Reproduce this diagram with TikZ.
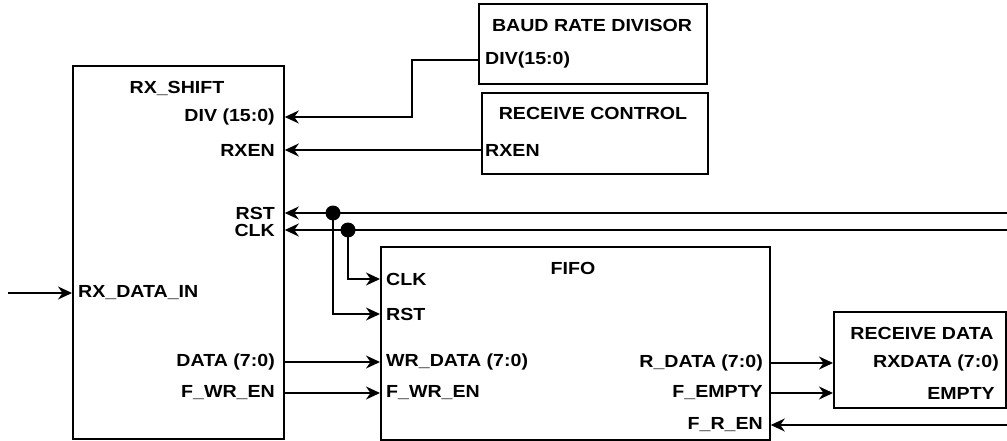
\documentclass[tikz,border=0pt]{standalone}
\usepackage{fontspec}
\setmainfont{Liberation Sans}[FakeStretch=1.12]
\usetikzlibrary{positioning, arrows.meta}

\begin{document}
\begin{tikzpicture}[
    x=1pt, y=-1pt,
    block/.style={draw, line width=1.8pt, anchor=north west, inner sep=0pt},
    title/.style={font=\bfseries\fontsize{17.5}{19}\selectfont, inner sep=1pt},
    port/.style={font=\bfseries\fontsize{17.5}{19}\selectfont, inner sep=1pt},
    sig/.style={-{Stealth[length=14pt, width=13pt, inset=4.5pt]}, line width=1.9pt},
    dot/.style={circle, fill, inner sep=0pt, minimum size=15pt}
]
    \useasboundingbox (0,0) rectangle (1007,441);

    % Blocks
    \node[block, minimum width=211pt, minimum height=373pt] (rx) at (72,65) {};
    \node[block, minimum width=228pt, minimum height=80pt] (baud) at (478,3) {};
    \node[block, minimum width=226pt, minimum height=81pt] (ctrl) at (481,92) {};
    \node[block, minimum width=389pt, minimum height=193pt] (fifo) at (380,246) {};
    \node[block, minimum width=172pt, minimum height=96pt] (rdat) at (833,311) {};

    % Titles
    \node[title] (rxname) at (177,88) {RX\_SHIFT};
    \node[title] (baudname) at (592,25) {BAUD RATE DIVISOR};
    \node[title] (ctrlname) at (593,113) {RECEIVE CONTROL};
    \node[title] (fifoname) at (573,268) {FIFO};
    \node[title] (rdatname) at (922,333) {RECEIVE DATA};

    % RX_SHIFT ports
    \node[port, anchor=east] (rdiv) at (276,117) {DIV (15:0)};
    \node[port, anchor=east] (rrxen) at (276,150) {RXEN};
    \node[port, anchor=east] (rrst) at (276,213) {RST};
    \node[port, anchor=east] (rclk) at (276,230) {CLK};
    \node[port, anchor=west] (rxdin) at (77,293) {RX\_DATA\_IN};
    \node[port, anchor=east] (rdata) at (276,362) {DATA (7:0)};
    \node[port, anchor=east] (rwren) at (276,393) {F\_WR\_EN};

    % other ports
    \node[port, anchor=west] (bdiv) at (484,60) {DIV(15:0)};
    \node[port, anchor=west] (crxen) at (484,150) {RXEN};
    \node[port, anchor=west] (fclk) at (385,279) {CLK};
    \node[port, anchor=west] (frst) at (385,314) {RST};
    \node[port, anchor=west] (fwdata) at (385,362) {WR\_DATA (7:0)};
    \node[port, anchor=west] (fwren) at (385,393) {F\_WR\_EN};
    \node[port, anchor=east] (frdata) at (764,363) {R\_DATA (7:0)};
    \node[port, anchor=east] (fempty) at (764,393) {F\_EMPTY};
    \node[port, anchor=east] (fren) at (764,425) {F\_R\_EN};
    \node[port, anchor=east] (drx) at (1000,363) {RXDATA (7:0)};
    \node[port, anchor=east] (dempty) at (996,393) {EMPTY};

    % Free ends and taps
    \coordinate (divbend) at (412,0);
    \coordinate (rstin) at (1007,213);
    \coordinate (clkin) at (1007,230);
    \coordinate (rsttap) at (333,213);
    \coordinate (clktap) at (348,230);
    \coordinate (rxin) at (8,293);
    \coordinate (renin) at (1007,425);

    % Connectors
    \draw[sig] (bdiv -| baud.west) -| (divbend |- rdiv) -- (rdiv -| rx.east);
    \draw[sig] (crxen -| ctrl.west) -- (rrxen -| rx.east);
    \draw[sig] (rstin) -- (rrst -| rx.east);
    \draw[sig] (clkin) -- (rclk -| rx.east);
    \draw[sig] (rsttap) |- (frst -| fifo.west);
    \draw[sig] (clktap) |- (fclk -| fifo.west);
    \node[dot] (rstdot) at (rsttap) {};
    \node[dot] (clkdot) at (clktap) {};
    \draw[sig] (rxin) -- (rxdin -| rx.west);
    \draw[sig] (rdata -| rx.east) -- (fwdata -| fifo.west);
    \draw[sig] (rwren -| rx.east) -- (fwren -| fifo.west);
    \draw[sig] (frdata -| fifo.east) -- (drx -| rdat.west);
    \draw[sig] (fempty -| fifo.east) -- (dempty -| rdat.west);
    \draw[sig] (renin) -- (fren -| fifo.east);
\end{tikzpicture}
\end{document}
